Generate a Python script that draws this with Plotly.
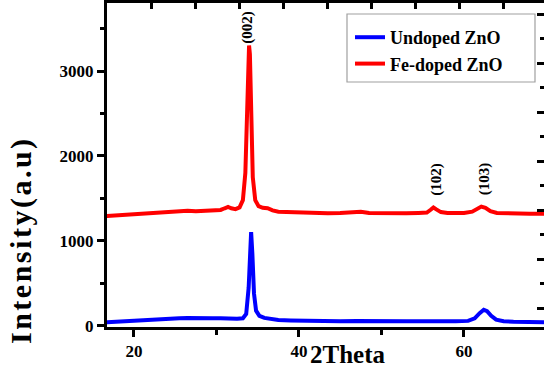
import plotly.graph_objects as go

# Fe-doped ZnO (red)
fe_x = [16.7, 17.5, 18.5, 19.5, 20.5, 21.5, 22.5, 23.5, 24.5, 25.5, 26.5, 27.5, 28.5, 29.5,
        30.5, 31.0, 31.4, 31.8, 32.3, 32.8, 33.2, 33.5, 33.7, 33.85, 33.95, 34.05, 34.2, 34.4,
        34.7, 35.1, 35.6, 36.2, 36.8, 37.5, 38.5, 39.5, 40.5, 42.0, 43.5, 45.0, 46.5, 47.5,
        48.5, 50.0, 51.5, 53.0, 54.5, 55.5, 56.0, 56.3, 56.6, 57.2, 58.0, 59.0, 60.0, 61.0,
        61.6, 62.1, 62.6, 63.2, 64.0, 65.0, 66.0, 67.0, 68.0, 69.0, 70.0]
fe_y = [1295, 1300, 1305, 1310, 1315, 1320, 1330, 1335, 1345, 1350, 1355, 1350, 1355, 1350,
        1365, 1385, 1400, 1385, 1375, 1395, 1480, 1800, 2600, 3150, 3300, 3200, 2500, 1750,
        1480, 1410, 1390, 1385, 1360, 1345, 1340, 1335, 1330, 1330, 1325, 1330, 1335, 1345,
        1330, 1325, 1330, 1325, 1330, 1335, 1370, 1395, 1375, 1340, 1330, 1325, 1330, 1345,
        1380, 1405, 1390, 1350, 1330, 1325, 1320, 1325, 1320, 1320, 1320]

# Undoped ZnO (blue)
un_x = [16.7, 17.5, 18.5, 19.5, 20.5, 21.5, 22.5, 23.5, 24.5, 25.5, 26.5, 27.5, 28.5, 29.5,
        30.5, 31.5, 32.5, 33.2, 33.6, 33.9, 34.05, 34.2, 34.35, 34.55, 34.8, 35.2, 35.8, 36.5,
        37.5, 39.0, 41.0, 43.0, 45.0, 47.0, 49.0, 51.0, 53.0, 55.0, 57.0, 59.0, 60.5, 61.3,
        61.9, 62.4, 62.8, 63.3, 63.9, 64.8, 66.0, 67.5, 69.0, 70.0]
un_y = [45, 50, 55, 60, 65, 70, 80, 85, 90, 90, 95, 90, 95, 90,
        90, 85, 85, 90, 140, 450, 900, 1105, 850, 380, 180, 120, 95, 80,
        70, 65, 60, 60, 55, 60, 55, 55, 55, 55, 50, 55, 60, 90,
        150, 190, 175, 120, 75, 55, 50, 45, 45, 45]

series_names = ["Undoped ZnO", "Fe-doped ZnO"]
peak_labels = ["(002)", "(102)", "(103)"]
peak_x = [33.8, 56.7, 62.6]
peak_y = [3520, 1730, 1730]

x_ticks = [20, 40, 60]
y_ticks = [0, 1000, 2000, 3000]

FONT = "Liberation Serif"
HAIR = "\u200A"

fig = go.Figure()
fig.add_trace(go.Scatter(x=un_x, y=un_y, mode="lines", name=series_names[0],
                         line=dict(color="#0000FF", width=4)))
fig.add_trace(go.Scatter(x=fe_x, y=fe_y, mode="lines", name=series_names[1],
                         line=dict(color="#FF0000", width=4)))
# invisible helper traces that bring in the decorative top/right axes
fig.add_trace(go.Scatter(x=[0], y=[0], xaxis="x2", yaxis="y2", mode="markers",
                         marker=dict(opacity=0), showlegend=False, hoverinfo="skip"))

for lab, px, py in zip(peak_labels, peak_x, peak_y):
    fig.add_annotation(x=px, y=py, text=lab, textangle=-90, showarrow=False,
                       font=dict(family=FONT, size=15, color="black", weight="bold"),
                       xanchor="center", yanchor="middle")

fig.add_annotation(xref="paper", yref="paper", x=(348 - 107) / 437, y=(327 - 354) / 324,
                   text="2Theta", showarrow=False, xanchor="center", yanchor="middle",
                   font=dict(family=FONT, size=25, color="black", weight="bold"))
fig.add_annotation(xref="paper", yref="paper", x=(21 - 107) / 437, y=(327 - 242) / 324,
                   text=HAIR.join("Intensity(a.u)"), showarrow=False, textangle=-90,
                   xanchor="center", yanchor="middle",
                   font=dict(family=FONT, size=30, color="black", weight="bold"))

# legend box
fig.add_shape(type="rect", xref="paper", yref="paper",
              x0=(347 - 107) / 437, x1=(535 - 107) / 437,
              y0=(327 - 82) / 324, y1=(327 - 14) / 324,
              line=dict(color="#A0A0A0", width=1.2), fillcolor="rgba(0,0,0,0)")

tickfont = dict(family=FONT, size=17, color="black", weight="bold")

fig.update_layout(
    width=544, height=367,
    margin=dict(l=107, r=0, t=3, b=40),
    paper_bgcolor="white", plot_bgcolor="white",
    showlegend=True,
    legend=dict(x=(350 - 107) / 437, y=(327 - 19) / 324, xanchor="left", yanchor="top",
                bgcolor="rgba(0,0,0,0)", borderwidth=0,
                font=dict(family=FONT, size=18, color="black", weight="bold"),
                tracegroupgap=0, itemwidth=30),
    xaxis=dict(range=[16.73, 69.7], tickmode="array", tickvals=x_ticks,
               ticks="outside", ticklen=7, tickwidth=2.5, tickcolor="black",
               minor=dict(dtick=10, tick0=0, ticks="outside", ticklen=5, tickwidth=2.5,
                          tickcolor="black"),
               showline=True, linewidth=3, linecolor="black",
               showgrid=False, zeroline=False, tickfont=tickfont),
    yaxis=dict(range=[-12, 3800], tickmode="array", tickvals=y_ticks,
               ticks="outside", ticklen=7, tickwidth=2.5, tickcolor="black",
               minor=dict(dtick=500, tick0=0, ticks="outside", ticklen=4, tickwidth=2.5,
                          tickcolor="black"),
               showline=True, linewidth=3, linecolor="black",
               showgrid=False, zeroline=False, tickfont=tickfont),
    xaxis2=dict(overlaying="x", side="top", anchor="y2", range=[0, 437],
                tickmode="linear", tick0=0, dtick=44,
                ticks="inside", ticklen=6, tickwidth=2.5, tickcolor="black",
                showline=True, linewidth=3, linecolor="black",
                showticklabels=False, showgrid=False, zeroline=False),
    yaxis2=dict(overlaying="y", side="right", anchor="x2",
                range=[0, 324], tickmode="array",
                tickvals=[19, 68, 117, 166, 215, 264, 313],
                ticks="inside", ticklen=7, tickwidth=3, tickcolor="black",
                minor=dict(tickvals=[43.5, 92.5, 141.5, 190.5, 239.5, 288.5],
                           ticks="inside", ticklen=4, tickwidth=3, tickcolor="black"),
                showline=False, showticklabels=False, showgrid=False, zeroline=False),
)

fig.write_html("out.html", config={"displayModeBar": False},
               post_script="document.body.style.margin='0';document.body.style.padding='0';")
